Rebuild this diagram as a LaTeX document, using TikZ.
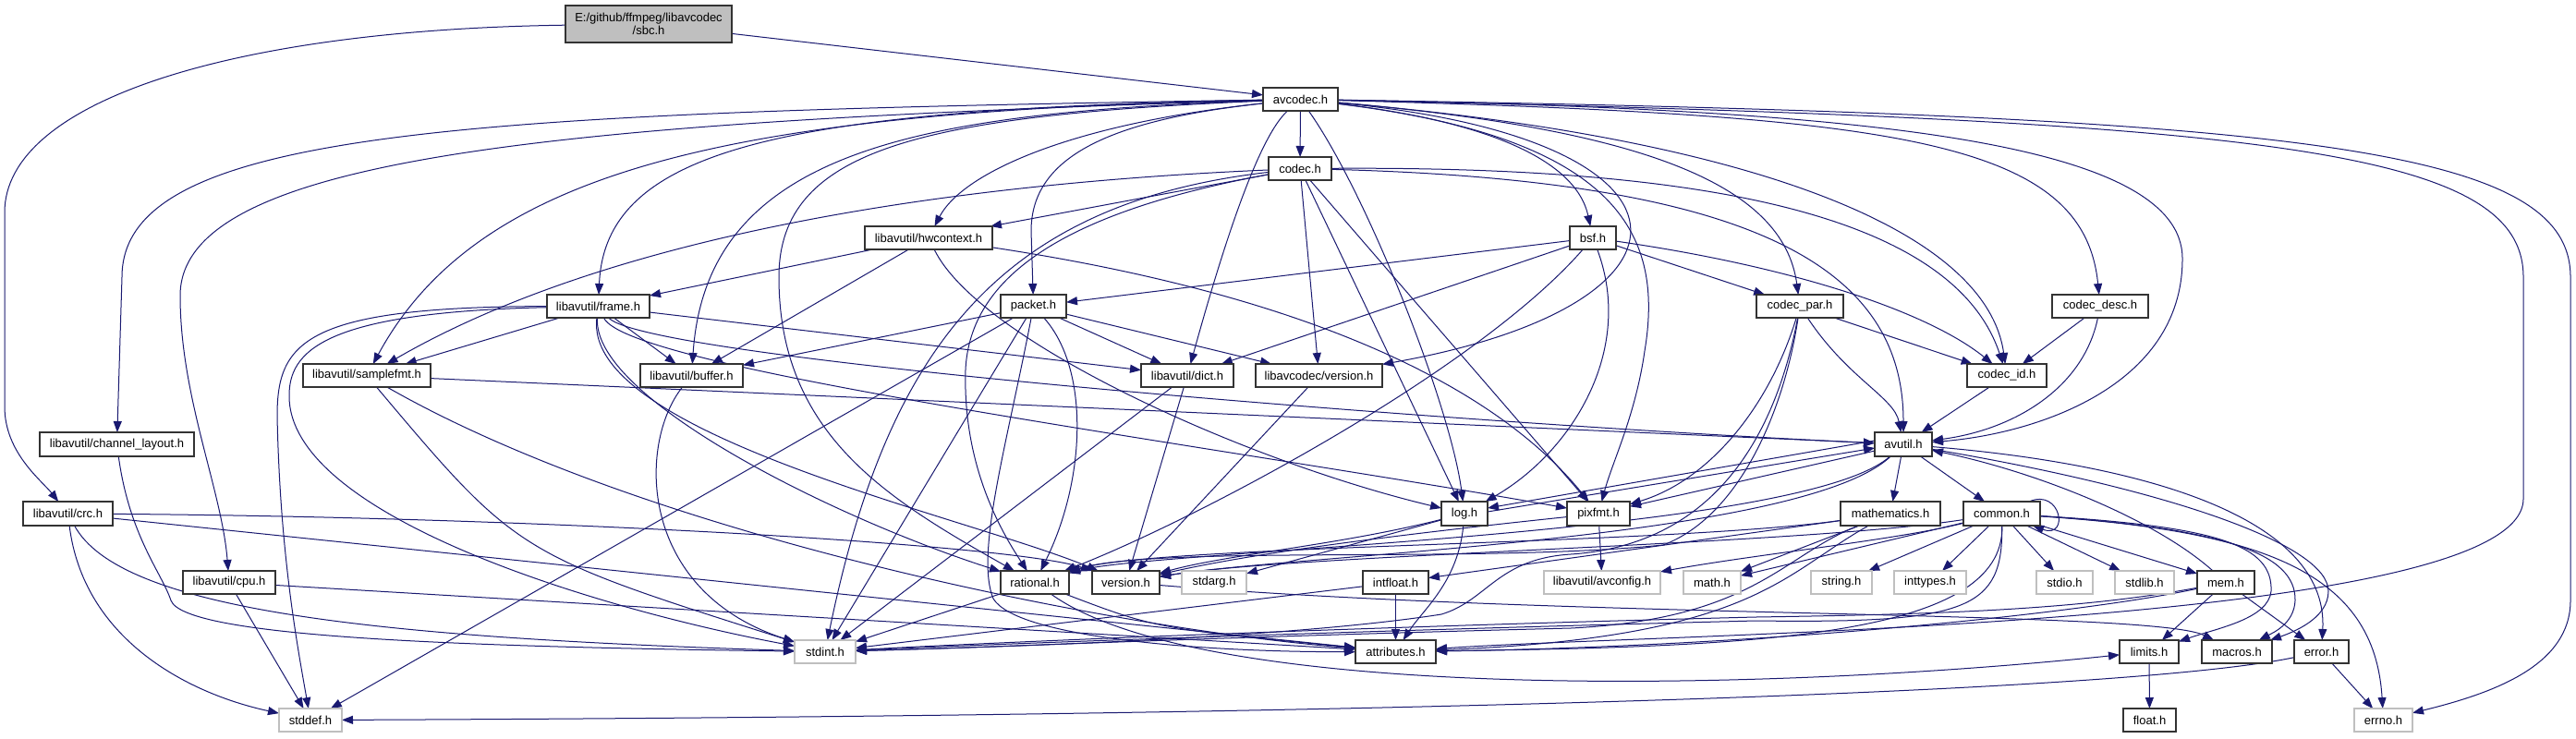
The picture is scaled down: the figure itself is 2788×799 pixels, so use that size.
\documentclass[tikz,border=0pt]{standalone}
\usepackage{fontspec}
\setmainfont{Liberation Sans}
\usetikzlibrary{arrows.meta}
\definecolor{edgec}{HTML}{191970}
\definecolor{sysb}{HTML}{BFBFBF}
\definecolor{mainf}{HTML}{BFBFBF}
\pgfdeclarelayer{bglayer}
\pgfsetlayers{bglayer,main}
\tikzset{
 hbase/.style={rectangle, inner sep=0pt, outer sep=0pt, line width=0.6pt, font=\fontsize{6.5}{7.2}\selectfont, fill=white},
 box/.style={hbase, draw=black!80},
 sys/.style={hbase, draw=sysb},
 mainnode/.style={hbase, draw=black!80, fill=mainf, align=center},
 dep/.style={draw=edgec, line width=0.5pt, -{Triangle[length=6pt,width=4.5pt]}},
}
\newcommand{\mkhdr}[7]{\node[#1, minimum width={(#5-#3)*0.5pt}, minimum height={(#6-#4)*0.5pt}] (#2) at ({(#3+#5)/2},{(#4+#6)/2}) {#7};}
\begin{document}
\begin{tikzpicture}[x=0.5pt,y=-0.5pt]
\useasboundingbox (0,0) rectangle (2788,799);
% nodes
\mkhdr{mainnode}{sbc}{612}{6}{792}{46}{E:/github/ffmpeg/libavcodec\\/sbc.h}
\mkhdr{box}{avcodec}{1367}{95}{1448}{120}{avcodec.h}
\mkhdr{box}{codec}{1373}{170}{1441}{195}{codec.h}
\mkhdr{box}{hwcontext}{936}{245}{1074}{270}{libavutil/hwcontext.h}
\mkhdr{box}{bsf}{1699}{245}{1749}{270}{bsf.h}
\mkhdr{box}{frame}{592}{319}{703}{344}{libavutil/frame.h}
\mkhdr{box}{packet}{1083}{319}{1154}{344}{packet.h}
\mkhdr{box}{codecpar}{1901}{319}{1995}{344}{codec\_par.h}
\mkhdr{box}{codecdesc}{2221}{319}{2325}{344}{codec\_desc.h}
\mkhdr{box}{samplefmt}{328}{394}{466}{419}{libavutil/samplefmt.h}
\mkhdr{box}{buffer}{693}{394}{804}{419}{libavutil/buffer.h}
\mkhdr{box}{dict}{1235}{394}{1335}{419}{libavutil/dict.h}
\mkhdr{box}{lcversion}{1359}{394}{1496}{419}{libavcodec/version.h}
\mkhdr{box}{codecid}{2129}{394}{2215}{419}{codec\_id.h}
\mkhdr{box}{chlayout}{43}{468}{210}{494}{libavutil/channel\_layout.h}
\mkhdr{box}{avutil}{2029}{468}{2091}{494}{avutil.h}
\mkhdr{box}{crc}{25}{543}{122}{569}{libavutil/crc.h}
\mkhdr{box}{log}{1560}{543}{1610}{569}{log.h}
\mkhdr{box}{pixfmt}{1696}{543}{1764}{569}{pixfmt.h}
\mkhdr{box}{mathematics}{1992}{543}{2100}{569}{mathematics.h}
\mkhdr{box}{common}{2125}{543}{2208}{569}{common.h}
\mkhdr{box}{cpu}{198}{618}{298}{643}{libavutil/cpu.h}
\mkhdr{box}{rational}{1083}{618}{1157}{643}{rational.h}
\mkhdr{box}{version}{1182}{618}{1255}{643}{version.h}
\mkhdr{sys}{stdarg}{1279}{618}{1349}{643}{stdarg.h}
\mkhdr{box}{intfloat}{1475}{618}{1546}{643}{intfloat.h}
\mkhdr{sys}{avconfig}{1671}{618}{1797}{643}{libavutil/avconfig.h}
\mkhdr{sys}{mathh}{1822}{618}{1884}{643}{math.h}
\mkhdr{sys}{stringh}{1960}{618}{2026}{643}{string.h}
\mkhdr{sys}{inttypes}{2050}{618}{2128}{643}{inttypes.h}
\mkhdr{sys}{stdio}{2204}{618}{2265}{643}{stdio.h}
\mkhdr{sys}{stdlib}{2289}{618}{2353}{643}{stdlib.h}
\mkhdr{box}{mem}{2378}{618}{2440}{643}{mem.h}
\mkhdr{sys}{stdint}{860}{693}{926}{718}{stdint.h}
\mkhdr{box}{attributes}{1467}{693}{1554}{718}{attributes.h}
\mkhdr{box}{limits}{2294}{693}{2358}{718}{limits.h}
\mkhdr{box}{macros}{2383}{693}{2459}{718}{macros.h}
\mkhdr{box}{errorh}{2483}{693}{2542}{718}{error.h}
\mkhdr{sys}{stddef}{302}{767}{370}{792}{stddef.h}
\mkhdr{box}{floath}{2298}{767}{2355}{792}{float.h}
\mkhdr{sys}{errno}{2548}{767}{2611}{792}{errno.h}
\begin{pgfonlayer}{bglayer}
\fill[white] (0,0) rectangle (2788,799);
% sbc
\draw[dep] (sbc) -- (avcodec);
\draw[dep] (sbc) .. controls (250,32) and (5,110) .. (5,230) -- (5,440) .. controls (5,490) and (45,520) .. (crc);
% avcodec
\draw[dep] (avcodec) .. controls (500,122) and (132,140) .. (132,300) -- (chlayout);
\draw[dep] (avcodec) .. controls (600,132) and (195,170) .. (195,320) .. controls (195,430) and (240,530) .. (cpu);
\draw[dep] (avcodec) .. controls (800,120) and (520,180) .. (samplefmt);
\draw[dep] (avcodec) .. controls (850,118) and (655,160) .. (frame);
\draw[dep] (avcodec) .. controls (1000,122) and (765,160) .. (buffer);
\draw[dep] (avcodec) .. controls (1000,125) and (843,160) .. (843,300) .. controls (843,470) and (960,540) .. (rational);
\draw[dep] (avcodec) .. controls (1150,135) and (1040,190) .. (hwcontext);
\draw[dep] (avcodec) .. controls (1200,130) and (1116,170) .. (1116,250) -- (packet);
\draw[dep] (avcodec) .. controls (1360,150) and (1320,280) .. (dict);
\draw[dep] (avcodec) -- (codec);
\draw[dep] (avcodec) .. controls (1480,210) and (1570,440) .. (log);
\draw[dep] (avcodec) .. controls (1600,130) and (1705,170) .. (bsf);
\draw[dep] (avcodec) .. controls (1760,150) and (1800,260) .. (1780,380) .. controls (1770,450) and (1745,500) .. (pixfmt);
\draw[dep] (avcodec) .. controls (1860,150) and (1860,330) .. (lcversion);
\draw[dep] (avcodec) .. controls (1780,140) and (1930,200) .. (codecpar);
\draw[dep] (avcodec) .. controls (1900,150) and (2150,250) .. (codecid);
\draw[dep] (avcodec) .. controls (2050,125) and (2255,150) .. (codecdesc);
\draw[dep] (avcodec) .. controls (2000,118) and (2362,150) .. (2362,280) .. controls (2362,420) and (2200,470) .. (avutil);
\draw[dep] (avcodec) .. controls (2450,130) and (2731,160) .. (2731,300) -- (2731,540) .. controls (2731,680) and (1800,685) .. (attributes);
\draw[dep] (avcodec) .. controls (2500,125) and (2782,160) .. (2782,300) -- (2782,650) .. controls (2782,720) and (2700,750) .. (errno);
% codec
\draw[dep] (codec) -- (hwcontext);
\draw[dep] (codec) .. controls (1000,200) and (650,260) .. (samplefmt);
\draw[dep] (codec) .. controls (1080,220) and (960,380) .. (stdint);
\draw[dep] (codec) .. controls (1150,230) and (1050,300) .. (1045,400) .. controls (1042,500) and (1080,570) .. (rational);
\draw[dep] (codec) -- (lcversion);
\draw[dep] (codec) -- (log);
\draw[dep] (codec) -- (pixfmt);
\draw[dep] (codec) .. controls (1800,180) and (2110,220) .. (codecid);
\draw[dep] (codec) .. controls (1900,195) and (2060,290) .. (avutil);
% hwcontext
\draw[dep] (hwcontext) -- (buffer);
\draw[dep] (hwcontext) -- (frame);
\draw[dep] (hwcontext) .. controls (1060,370) and (1350,500) .. (log);
\draw[dep] (hwcontext) .. controls (1420,320) and (1620,420) .. (pixfmt);
% frame
\draw[dep] (frame) -- (samplefmt);
\draw[dep] (frame) -- (buffer);
\draw[dep] (frame) -- (dict);
\draw[dep] (frame) .. controls (330,332) and (300,370) .. (300,450) .. controls (303,600) and (322,700) .. (stddef);
\draw[dep] (frame) .. controls (350,338) and (312,380) .. (313,430) .. controls (315,560) and (650,660) .. (stdint);
\draw[dep] (frame) .. controls (640,430) and (900,560) .. (rational);
\draw[dep] (frame) .. controls (630,470) and (1050,560) .. (version);
\draw[dep] (frame) .. controls (680,400) and (1300,480) .. (pixfmt);
\draw[dep] (frame) .. controls (700,390) and (1600,460) .. (avutil);
% samplefmt
\draw[dep] (samplefmt) -- (avutil);
\draw[dep] (samplefmt) .. controls (560,600) .. (stdint);
\draw[dep] (samplefmt) .. controls (700,580) and (1200,680) .. (attributes);
% buffer, dict, lcversion
\draw[dep] (buffer) .. controls (690,480) and (690,640) .. (stdint);
\draw[dep] (dict) -- (stdint);
\draw[dep] (dict) -- (version);
\draw[dep] (lcversion) -- (version);
% packet
\draw[dep] (packet) -- (buffer);
\draw[dep] (packet) -- (stddef);
\draw[dep] (packet) -- (stdint);
\draw[dep] (packet) .. controls (1180,400) and (1175,520) .. (rational);
\draw[dep] (packet) .. controls (1090,480) and (1055,600) .. (1075,648) .. controls (1100,690) and (1300,706) .. (attributes);
\draw[dep] (packet) -- (dict);
\draw[dep] (packet) -- (lcversion);
% bsf
\draw[dep] (bsf) -- (packet);
\draw[dep] (bsf) -- (dict);
\draw[dep] (bsf) .. controls (1600,400) and (1300,560) .. (rational);
\draw[dep] (bsf) .. controls (1770,380) and (1700,490) .. (log);
\draw[dep] (bsf) -- (codecpar);
\draw[dep] (bsf) .. controls (1950,290) and (2090,340) .. (codecid);
% codec_par
\draw[dep] (codecpar) -- (codecid);
\draw[dep] (codecpar) .. controls (2000,410) and (2050,430) .. (avutil);
\draw[dep] (codecpar) .. controls (1915,440) and (1850,520) .. (pixfmt);
\draw[dep] (codecpar) .. controls (1930,450) and (1880,560) .. (1800,590) .. controls (1600,610) and (1250,590) .. (rational);
\draw[dep] (codecpar) .. controls (1920,480) and (1850,590) .. (1700,600) .. controls (1620,605) and (1610,650) .. (1560,665) .. controls (1400,690) and (1100,700) .. (stdint);
% codec_desc, codec_id
\draw[dep] (codecdesc) -- (codecid);
\draw[dep] (codecdesc) .. controls (2255,420) and (2180,465) .. (avutil);
\draw[dep] (codecid) -- (avutil);
% channel_layout, crc, cpu
\draw[dep] (chlayout) .. controls (140,580) and (175,620) .. (185,650) .. controls (200,690) and (500,700) .. (stdint);
\draw[dep] (crc) .. controls (130,660) and (400,690) .. (stdint);
\draw[dep] (crc) .. controls (90,690) and (200,750) .. (stddef);
\draw[dep] (crc) .. controls (600,560) and (1100,590) .. (version);
\draw[dep] (crc) -- (attributes);
\draw[dep] (cpu) -- (stddef);
\draw[dep] (cpu) -- (attributes);
% avutil
\draw[dep] (avutil) -- (common);
\draw[dep] (avutil) -- (mathematics);
\draw[dep] ([yshift=2pt]avutil.west) -- ([yshift=3pt]log.east);
\draw[dep] (avutil) -- (pixfmt);
\draw[dep] (avutil) .. controls (1950,585) and (1400,600) .. (version);
\draw[dep] (avutil) .. controls (1950,580) and (1250,595) .. (rational);
\draw[dep] (avutil) .. controls (2350,505) and (2520,570) .. (errorh);
\draw[dep] (avutil) .. controls (2350,530) and (2520,590) .. (2520,640) .. controls (2520,670) and (2480,685) .. (macros);
% log
\draw[dep] (log) -- (stdarg);
\draw[dep] ([yshift=1pt]log.east) -- ([yshift=-2pt]avutil.west);
\draw[dep] (log) .. controls (1578,630) and (1540,660) .. (attributes);
\draw[dep] (log) .. controls (1450,590) and (1330,600) .. (version);
% pixfmt
\draw[dep] (pixfmt) -- (avconfig);
\draw[dep] (pixfmt) .. controls (1500,580) and (1350,600) .. (version);
% mathematics
\draw[dep] (mathematics) .. controls (1930,600) and (1900,670) .. (1700,680) .. controls (1300,690) and (1100,700) .. (stdint);
\draw[dep] (mathematics) -- (mathh);
\draw[dep] (mathematics) .. controls (1930,620) and (1900,690) .. (attributes);
\draw[dep] (mathematics) .. controls (1800,590) and (1250,590) .. (rational);
\draw[dep] (mathematics) -- (intfloat);
% intfloat, rational, version
\draw[dep] (intfloat) -- (stdint);
\draw[dep] (intfloat) -- (attributes);
\draw[dep] (rational) -- (stdint);
\draw[dep] (rational) .. controls (1300,760) and (1900,750) .. (limits);
\draw[dep] (rational) .. controls (1250,680) .. (attributes);
\draw[dep] (version) .. controls (1700,670) and (2330,660) .. (macros);
% common
\draw[dep] (common) .. controls (2450,575) and (2570,620) .. (errno);
\draw[dep] (common) -- (inttypes);
\draw[dep] (common) .. controls (2400,570) and (2460,590) .. (2458,640) .. controls (2455,670) and (2400,680) .. (limits);
\draw[dep] (common) -- (mathh);
\draw[dep] (common) .. controls (2168,660) and (2130,675) .. (1900,672) .. controls (1500,682) and (1100,696) .. (stdint);
\draw[dep] (common) -- (stdio);
\draw[dep] (common) -- (stdlib);
\draw[dep] (common) -- (stringh);
\draw[dep] (common) .. controls (2170,690) and (1900,700) .. (attributes);
\draw[dep] (common) .. controls (2410,572) and (2485,600) .. (2484,650) .. controls (2483,675) and (2460,685) .. (macros);
\draw[dep] (common) .. controls (1950,590) and (1400,600) .. (version);
\draw[dep] (common) .. controls (2050,585) and (1900,600) .. (avconfig);
\draw[dep] ([xshift=-6pt]common.north east) .. controls +(35,-15) and +(40,15) .. ([xshift=-4pt]common.south east);
\draw[dep] (common) -- (mem);
% mem
\draw[dep] (mem) -- (limits);
\draw[dep] (mem) .. controls (2250,660) and (2100,665) .. (1900,668) .. controls (1500,678) and (1100,694) .. (stdint);
\draw[dep] (mem) .. controls (2250,665) and (1900,700) .. (attributes);
\draw[dep] (mem) -- (errorh);
\draw[dep] (mem) .. controls (2330,560) and (2200,510) .. (avutil);
% error, limits
\draw[dep] (errorh) -- (errno);
\draw[dep] (errorh) .. controls (2300,750) and (1500,775) .. (stddef);
\draw[dep] (limits) -- (floath);
\end{pgfonlayer}
\end{tikzpicture}
\end{document}
